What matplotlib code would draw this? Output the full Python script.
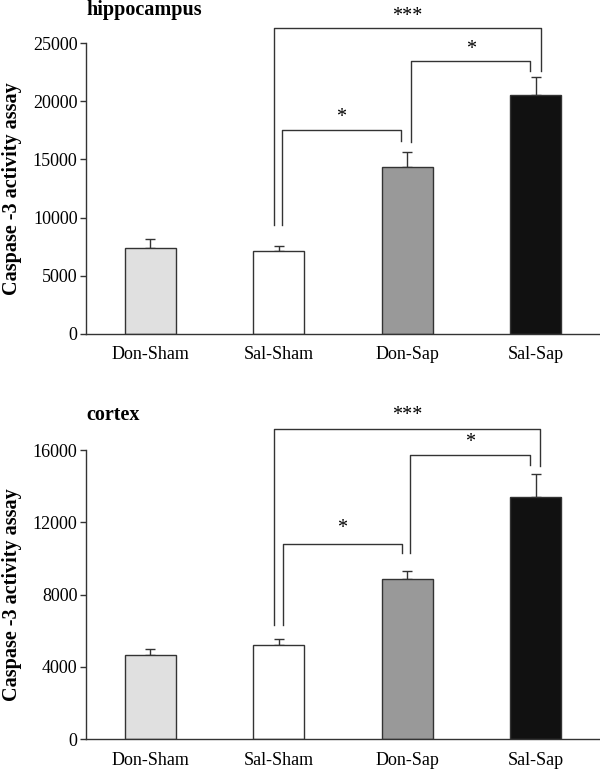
import matplotlib
matplotlib.use("Agg")
import matplotlib.pyplot as plt

plt.rcParams['font.family'] = ['Liberation Serif', 'DejaVu Serif']

categories = ["Don-Sham", "Sal-Sham", "Don-Sap", "Sal-Sap"]
colors = ["#e0e0e0", "#ffffff", "#999999", "#111111"]

hippo_values = [7350, 7150, 14320, 20540]
hippo_err = [775, 430, 1290, 1520]
cortex_values = [4630, 5190, 8880, 13415]
cortex_err = [350, 365, 440, 1270]

hippo_ticks = [0, 5000, 10000, 15000, 20000, 25000]
cortex_ticks = [0, 4000, 8000, 12000, 16000]

# brackets: (x_left, x_right, y_top, y_left_bottom, y_right_bottom, label, label_y)
hippo_brackets = [
    (0.962, 3.037, 26280, 9355, 22630, "***", 27300),
    (1.024, 1.954, 17530, 9355, 16610, "*", 18600),
    (2.030, 2.959, 23470, 16520, 22630, "*", 24450),
]
cortex_brackets = [
    (0.962, 3.030, 17160, 6310, 15110, "***", 17900),
    (1.032, 1.957, 10800, 6310, 10310, "*", 11650),
    (2.020, 2.959, 15740, 10280, 15170, "*", 16400),
]

fig = plt.figure(figsize=(6.0, 7.69), dpi=100)
ax1 = fig.add_axes([0.1433, 0.566, 0.8567, 0.3777])
ax2 = fig.add_axes([0.1433, 0.039, 0.8567, 0.3758])

def draw(ax, vals, errs, ticks, ymax, title, title_y, brackets):
    x = list(range(len(categories)))
    ax.bar(x, vals, width=0.4, color=colors, edgecolor="#333333", linewidth=1.0, zorder=2)
    ax.errorbar(x, vals, yerr=[[0]*len(errs), errs], fmt="none", ecolor="#333333",
                elinewidth=1.0, capsize=3.5, capthick=1.0, zorder=1)
    ax.set_xlim(-0.5, 3.5)
    ax.set_ylim(0, ymax)
    ax.set_yticks(ticks)
    ax.set_xticks(x)
    ax.set_xticklabels(categories, fontsize=13)
    ax.tick_params(axis="y", labelsize=13, direction="out", length=4, width=1, color="#333333", pad=2)
    ax.tick_params(axis="x", length=0, pad=9)
    for s in ["top", "right"]:
        ax.spines[s].set_visible(False)
    for s in ["left", "bottom"]:
        ax.spines[s].set_color("#333333")
        ax.spines[s].set_linewidth(1.0)
    ax.set_ylabel("Caspase -3 activity assay", fontsize=14.5, fontweight="bold")
    ax.text(0.0, title_y, title, transform=ax.transAxes, fontsize=14.5,
            fontweight="bold", ha="left", va="center")
    for (xl, xr, yt, ylb, yrb, lab, ly) in brackets:
        ax.plot([xl, xl, xr, xr], [ylb, yt, yt, yrb], color="#333333", lw=1.0, clip_on=False)
        ax.text((xl + xr) / 2, ly, lab, ha="center", va="center", fontsize=14.5, clip_on=False)

draw(ax1, hippo_values, hippo_err, hippo_ticks, 25000, "hippocampus", 1.113, hippo_brackets)
draw(ax2, cortex_values, cortex_err, cortex_ticks, 16000, "cortex", 1.122, cortex_brackets)
ax1.yaxis.set_label_coords(-0.125, 0.5)
ax2.yaxis.set_label_coords(-0.125, 0.5)

fig.savefig("out.png", dpi=100)
